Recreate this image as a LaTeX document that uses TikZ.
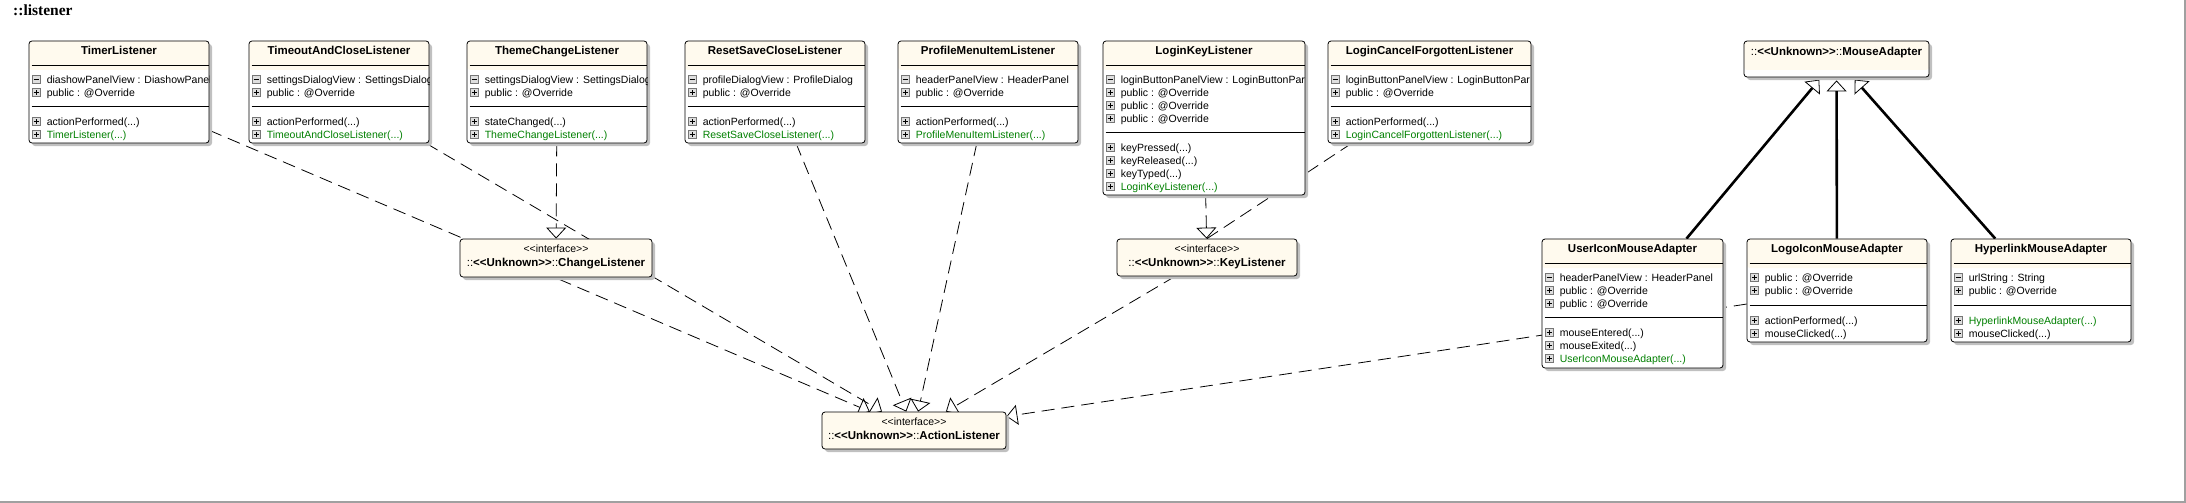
\documentclass[tikz,border=0pt]{standalone}
\usepackage{fontspec}
\usepackage{tikz}
\usetikzlibrary{arrows.meta,shadows,backgrounds}

\newfontfamily\umlfont{Liberation Sans}
\newfontfamily\titlefont{Liberation Serif}

\definecolor{headfill}{RGB}{255,250,238}
\definecolor{shadowgray}{RGB}{192,192,192}
\definecolor{ctorgreen}{RGB}{0,128,0}
\definecolor{iconfill}{RGB}{222,222,222}
\definecolor{iconedge}{RGB}{118,118,118}
\definecolor{framegray}{RGB}{160,160,160}

\tikzset{
  plusicon/.pic={\draw[iconedge,fill=iconfill,line width=0.7pt] (-4,-4) rectangle (4,4);
    \draw[line width=1.2pt] (-2.5,0) -- (2.5,0) (0,-2.5) -- (0,2.5);},
  minusicon/.pic={\draw[iconedge,fill=iconfill,line width=0.7pt] (-4,-4) rectangle (4,4);
    \draw[line width=1.2pt] (-2.5,0) -- (2.5,0);}
}

% one row of a class: [text options]{class}{offset below top}{icon}{text}
\newcommand{\member}[5][]{%
  \pic at ([shift={(7.5,#3)}]#2.north west) {#4};
  \node[member,#1] (#2-#3) at ([shift={(18,#3+4)}]#2.north west) {#5};}
% compartment line: {class}{offset below top}
\newcommand{\compline}[2]{%
  \draw[line width=0.8pt] ([shift={(3,#2)}]#1.north west) -- ([shift={(0,#2)}]#1.north east);}

\begin{document}
\begin{tikzpicture}[x=1pt,y=-1pt]
\tikzstyle{classbox}=[draw,line width=0.8pt,fill=white,rounded corners=3pt,inner sep=0pt,
  drop shadow={shadow xshift=3pt,shadow yshift=-3pt,fill=shadowgray,opacity=1},
  path picture={\fill[headfill] (path picture bounding box.north west) rectangle ([yshift=-29pt]path picture bounding box.north east);}]
\tikzstyle{ifacebox}=[draw,line width=0.8pt,fill=headfill,rounded corners=3pt,inner sep=0pt,
  drop shadow={shadow xshift=3pt,shadow yshift=-3pt,fill=shadowgray,opacity=1}]
\tikzstyle{classtitle}=[anchor=base,inner sep=0pt,font=\umlfont\bfseries\fontsize{11.5}{13}\selectfont]
\tikzstyle{stereo}=[anchor=base,inner sep=0pt,font=\umlfont\fontsize{10.5}{13}\selectfont]
\tikzstyle{member}=[anchor=base west,inner sep=0pt,font=\umlfont\fontsize{10.5}{13}\selectfont]
\tikzstyle{realize}=[draw,line width=0.8pt,dash pattern=on 13pt off 7pt,
  -{Triangle[open,length=11pt,width=20pt,line width=0.8pt]}]
\tikzstyle{dashline}=[draw,line width=0.8pt,dash pattern=on 13pt off 7pt]
\tikzstyle{generalize}=[draw,line width=2.6pt,shorten >=3pt,
  -{Triangle[open,length=11pt,width=20pt,line width=0.8pt]}]

\useasboundingbox (0,0) rectangle (2186,503);
\draw[framegray,line width=1.5pt] (0,502) -- (2185,502) -- (2185,0);

\node[anchor=base west,inner sep=0pt,font=\titlefont\bfseries\fontsize{15.5}{18}\selectfont] (pkg) at (13,16) {::listener};

% classes
\node[classbox,minimum width=180pt,minimum height=102pt] (timer) at (119,92) {};
\node[classbox,minimum width=180pt,minimum height=102pt] (timeout) at (339,92) {};
\node[classbox,minimum width=180pt,minimum height=102pt] (theme) at (557,92) {};
\node[classbox,minimum width=180pt,minimum height=102pt] (reset) at (775,92) {};
\node[classbox,minimum width=180pt,minimum height=102pt] (profile) at (988,92) {};
\node[classbox,minimum width=202pt,minimum height=154pt] (loginkey) at (1204,118) {};
\node[classbox,minimum width=203pt,minimum height=102pt] (logincancel) at (1429.5,92) {};
\node[classbox,minimum width=185pt,minimum height=36pt] (mouse) at (1836.5,59) {};
\node[classbox,minimum width=181pt,minimum height=129pt] (usericon) at (1632.5,303.5) {};
\node[classbox,minimum width=180pt,minimum height=103pt] (logoicon) at (1837,290.5) {};
\node[classbox,minimum width=180pt,minimum height=103pt] (hyperlink) at (2041,290.5) {};

% interfaces
\node[ifacebox,minimum width=192pt,minimum height=38pt] (change) at (556,258) {};
\node[ifacebox,minimum width=180pt,minimum height=37pt] (keylis) at (1207,257.5) {};
\node[ifacebox,minimum width=184pt,minimum height=37pt] (action) at (914,430.5) {};

\node[stereo] (change-st) at ([yshift=-14pt]change.north) {<<interface>>};
\node[classtitle] (change-name) at ([yshift=-28pt]change.north) {{\mdseries::}<<Unknown>>{\mdseries::}ChangeListener};
\node[stereo] (keylis-st) at ([yshift=-14pt]keylis.north) {<<interface>>};
\node[classtitle] (keylis-name) at ([yshift=-28pt]keylis.north) {{\mdseries::}<<Unknown>>{\mdseries::}KeyListener};
\node[stereo] (action-st) at ([yshift=-14pt]action.north) {<<interface>>};
\node[classtitle] (action-name) at ([yshift=-28pt]action.north) {{\mdseries::}<<Unknown>>{\mdseries::}ActionListener};
\node[classtitle] (mouse-name) at ([yshift=-15pt]mouse.north) {{\mdseries::}<<Unknown>>{\mdseries::}MouseAdapter};

% TimerListener
\node[classtitle] (timer-title) at ([yshift=-14pt]timer.north) {TimerListener};
\compline{timer}{25}
\compline{timer}{66}
\begin{scope}
\clip (timer.north west) rectangle (timer.south east);
\member{timer}{39}{minusicon}{diashowPanelView : DiashowPanel}
\end{scope}
\member{timer}{52}{plusicon}{public : @Override}
\member{timer}{81}{plusicon}{actionPerformed(...)}
\member[text=ctorgreen]{timer}{94}{plusicon}{TimerListener(...)}

% TimeoutAndCloseListener
\node[classtitle] (timeout-title) at ([yshift=-14pt]timeout.north) {TimeoutAndCloseListener};
\compline{timeout}{25}
\compline{timeout}{66}
\begin{scope}
\clip (timeout.north west) rectangle (timeout.south east);
\member{timeout}{39}{minusicon}{settingsDialogView : SettingsDialog}
\end{scope}
\member{timeout}{52}{plusicon}{public : @Override}
\member{timeout}{81}{plusicon}{actionPerformed(...)}
\member[text=ctorgreen]{timeout}{94}{plusicon}{TimeoutAndCloseListener(...)}

% ThemeChangeListener
\node[classtitle] (theme-title) at ([yshift=-14pt]theme.north) {ThemeChangeListener};
\compline{theme}{25}
\compline{theme}{66}
\begin{scope}
\clip (theme.north west) rectangle (theme.south east);
\member{theme}{39}{minusicon}{settingsDialogView : SettingsDialog}
\end{scope}
\member{theme}{52}{plusicon}{public : @Override}
\member{theme}{81}{plusicon}{stateChanged(...)}
\member[text=ctorgreen]{theme}{94}{plusicon}{ThemeChangeListener(...)}

% ResetSaveCloseListener
\node[classtitle] (reset-title) at ([yshift=-14pt]reset.north) {ResetSaveCloseListener};
\compline{reset}{25}
\compline{reset}{66}
\member{reset}{39}{minusicon}{profileDialogView : ProfileDialog}
\member{reset}{52}{plusicon}{public : @Override}
\member{reset}{81}{plusicon}{actionPerformed(...)}
\member[text=ctorgreen]{reset}{94}{plusicon}{ResetSaveCloseListener(...)}

% ProfileMenuItemListener
\node[classtitle] (profile-title) at ([yshift=-14pt]profile.north) {ProfileMenuItemListener};
\compline{profile}{25}
\compline{profile}{66}
\member{profile}{39}{minusicon}{headerPanelView : HeaderPanel}
\member{profile}{52}{plusicon}{public : @Override}
\member{profile}{81}{plusicon}{actionPerformed(...)}
\member[text=ctorgreen]{profile}{94}{plusicon}{ProfileMenuItemListener(...)}

% LoginKeyListener
\node[classtitle] (loginkey-title) at ([yshift=-14pt]loginkey.north) {LoginKeyListener};
\compline{loginkey}{25}
\compline{loginkey}{92}
\begin{scope}
\clip (loginkey.north west) rectangle (loginkey.south east);
\member{loginkey}{39}{minusicon}{loginButtonPanelView : LoginButtonPar}
\end{scope}
\member{loginkey}{52}{plusicon}{public : @Override}
\member{loginkey}{65}{plusicon}{public : @Override}
\member{loginkey}{78}{plusicon}{public : @Override}
\member{loginkey}{107}{plusicon}{keyPressed(...)}
\member{loginkey}{120}{plusicon}{keyReleased(...)}
\member{loginkey}{133}{plusicon}{keyTyped(...)}
\member[text=ctorgreen]{loginkey}{146}{plusicon}{LoginKeyListener(...)}

% LoginCancelForgottenListener
\node[classtitle] (logincancel-title) at ([yshift=-14pt]logincancel.north) {LoginCancelForgottenListener};
\compline{logincancel}{25}
\compline{logincancel}{66}
\begin{scope}
\clip (logincancel.north west) rectangle (logincancel.south east);
\member{logincancel}{39}{minusicon}{loginButtonPanelView : LoginButtonPar}
\end{scope}
\member{logincancel}{52}{plusicon}{public : @Override}
\member{logincancel}{81}{plusicon}{actionPerformed(...)}
\member[text=ctorgreen]{logincancel}{94}{plusicon}{LoginCancelForgottenListener(...)}

% UserIconMouseAdapter
\node[classtitle] (usericon-title) at ([yshift=-14pt]usericon.north) {UserIconMouseAdapter};
\compline{usericon}{25}
\compline{usericon}{79}
\member{usericon}{39}{minusicon}{headerPanelView : HeaderPanel}
\member{usericon}{52}{plusicon}{public : @Override}
\member{usericon}{65}{plusicon}{public : @Override}
\member{usericon}{94}{plusicon}{mouseEntered(...)}
\member{usericon}{107}{plusicon}{mouseExited(...)}
\member[text=ctorgreen]{usericon}{120}{plusicon}{UserIconMouseAdapter(...)}

% LogoIconMouseAdapter
\node[classtitle] (logoicon-title) at ([yshift=-14pt]logoicon.north) {LogoIconMouseAdapter};
\compline{logoicon}{25}
\compline{logoicon}{67}
\member{logoicon}{39}{plusicon}{public : @Override}
\member{logoicon}{52}{plusicon}{public : @Override}
\member{logoicon}{82}{plusicon}{actionPerformed(...)}
\member{logoicon}{95}{plusicon}{mouseClicked(...)}

% HyperlinkMouseAdapter
\node[classtitle] (hyperlink-title) at ([yshift=-14pt]hyperlink.north) {HyperlinkMouseAdapter};
\compline{hyperlink}{25}
\compline{hyperlink}{67}
\member{hyperlink}{39}{minusicon}{urlString : String}
\member{hyperlink}{52}{plusicon}{public : @Override}
\member[text=ctorgreen]{hyperlink}{82}{plusicon}{HyperlinkMouseAdapter(...)}
\member{hyperlink}{95}{plusicon}{mouseClicked(...)}

% connectors
\begin{scope}[on background layer]
\draw[realize] (timer) -- (action);
\draw[realize] (timeout) -- (action);
\draw[realize] (theme) -- (change);
\draw[realize] (reset) -- (action);
\draw[realize] (profile) -- (action);
\draw[realize] (loginkey) -- (keylis);
\draw[dashline] (logincancel) -- (keylis.north);
\draw[realize] (keylis) -- (action);
\draw[realize] (logoicon) -- (action);
\draw[generalize] (usericon) -- (mouse);
\draw[generalize] (logoicon) -- (mouse);
\draw[generalize] (hyperlink) -- (mouse);
\end{scope}
\end{tikzpicture}
\end{document}
